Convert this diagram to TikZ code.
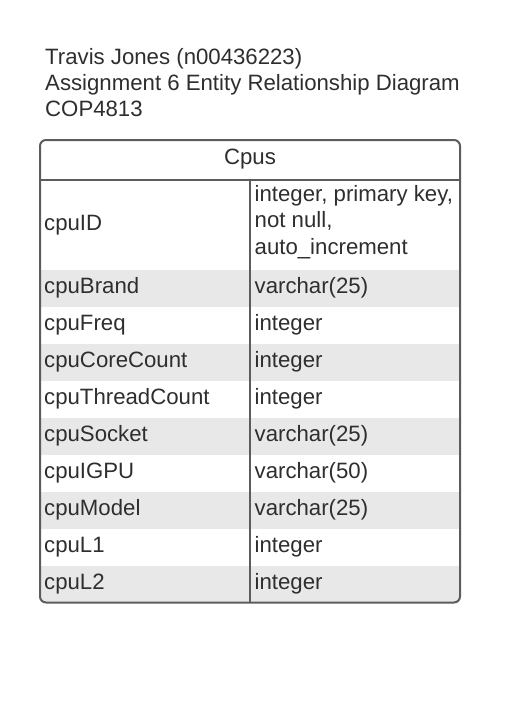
\documentclass[tikz,border=0pt]{standalone}
\usepackage{fontspec}
\setmainfont{Liberation Sans}
\definecolor{ink}{HTML}{2E2E2E}
\definecolor{frame}{HTML}{5C5C5C}
\definecolor{stripe}{HTML}{E8E8E8}
\tikzset{
  txt/.style={anchor=base west, inner sep=0pt, text=ink, font=\fontsize{22.2}{26.2}\selectfont},
  border/.style={draw=frame, line width=2pt},
}
\begin{document}
\begin{tikzpicture}[x=1pt,y=-1pt]
                \useasboundingbox (0,0) rectangle (504,720);

                \node (who) at (45,64) [txt] {Travis Jones (n00436223)};
                \node (what) at (45,90.5) [txt] {Assignment 6 Entity Relationship Diagram};
                \node (course) at (45,116.3) [txt] {COP4813};

                % striped rows
                \begin{scope}
                \clip[rounded corners=6pt] (40,140) rectangle (460,602.5);
                \fill[stripe] (40,270) rectangle (460,307);
                \fill[stripe] (40,344) rectangle (460,381);
                \fill[stripe] (40,418) rectangle (460,455);
                \fill[stripe] (40,492) rectangle (460,529);
                \fill[stripe] (40,566) rectangle (460,603);
                \end{scope}

                \coordinate (hl) at (40,180);
                \coordinate (hr) at (460,180);
                \coordinate (dtop) at (250,180);
                \coordinate (dbot) at (250,602.5);
                \draw[border, rounded corners=6pt] (40,140) rectangle (460,602.5);
                \draw[border] (hl) -- (hr);
                \draw[border] (dtop) -- (dbot);

                \node (cpus) at (250,164) [txt, anchor=base] {Cpus};

                \node (cpuID) at (44,230) [txt] {cpuID};
                \node (cpuIDT) at (254.5,254) [txt, align=left] {integer, primary key,\\ not null,\\ auto\_increment};
                \node (cpuBrand) at (44,293.5) [txt] {cpuBrand};
                \node (cpuBrandT) at (254.5,293.5) [txt] {varchar(25)};
                \node (cpuFreq) at (44,330.5) [txt] {cpuFreq};
                \node (cpuFreqT) at (254.5,330.5) [txt] {integer};
                \node (cpuCoreCount) at (44,367.5) [txt] {cpuCoreCount};
                \node (cpuCoreCountT) at (254.5,367.5) [txt] {integer};
                \node (cpuThreadCount) at (44,404.5) [txt] {cpuThreadCount};
                \node (cpuThreadCountT) at (254.5,404.5) [txt] {integer};
                \node (cpuSocket) at (44,441.5) [txt] {cpuSocket};
                \node (cpuSocketT) at (254.5,441.5) [txt] {varchar(25)};
                \node (cpuIGPU) at (44,478.5) [txt] {cpuIGPU};
                \node (cpuIGPUT) at (254.5,478.5) [txt] {varchar(50)};
                \node (cpuModel) at (44,515.5) [txt] {cpuModel};
                \node (cpuModelT) at (254.5,515.5) [txt] {varchar(25)};
                \node (cpuL1) at (44,552.5) [txt] {cpuL1};
                \node (cpuL1T) at (254.5,552.5) [txt] {integer};
                \node (cpuL2) at (44,589.5) [txt] {cpuL2};
                \node (cpuL2T) at (254.5,589.5) [txt] {integer};
            \end{tikzpicture}
\end{document}
